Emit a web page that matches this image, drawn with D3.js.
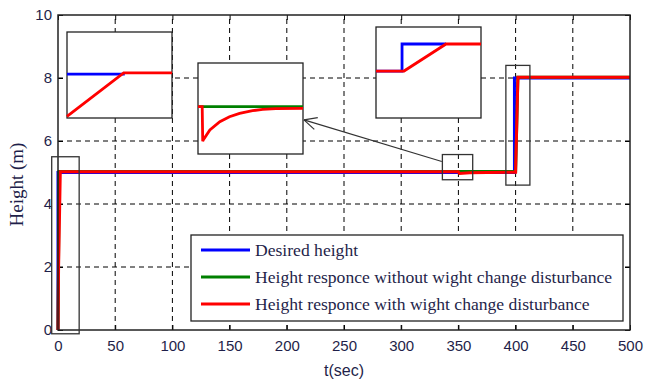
<!DOCTYPE html>
<html>
<head>
<meta charset="utf-8">
<script src="https://cdn.jsdelivr.net/npm/d3@7"></script>
<style>
  body { margin: 0; background: #fff; }
  svg text { fill: #1f1f4a; }
</style>
</head>
<body>
<div id="chart"></div>
<script>
// main series, [t, height]
var desired = [[0, 0], [0, 5], [399, 5], [399, 8], [500, 8]];
var noDisturb = [[0, 0], [1, 5.03], [400, 5.03], [402, 8.02], [500, 8.02]];
var withDisturb = [[0, 0], [0.5, 2], [2, 5.02], [350, 5.02], [351, 4.97], [360, 4.99],
  [375, 5.0], [400, 5.01], [402, 8.02], [500, 8.02]];

var xTicks = [0, 50, 100, 150, 200, 250, 300, 350, 400, 450, 500];
var yTicks = [0, 2, 4, 6, 8, 10];

var legendLabels = ["Desired height",
  "Height responce without wight change disturbance",
  "Height responce with wight change disturbance"];
var colors = ["#0000ff", "#008000", "#ff0000"];

// zoomed insets, drawn in their own unit box (0..1)
var inset1Blue = [[0, 0.51], [0.55, 0.51]];
var inset1Red = [[0, 0.02], [0.54, 0.525], [1, 0.525]];
var inset2Green = [[0, 0.52], [1, 0.52]];
var inset2Red = [[0, 0.52], [0.04, 0.52], [0.045, 0.14], [0.05, 0.154], [0.113, 0.264],
  [0.208, 0.355], [0.3, 0.41], [0.396, 0.447], [0.52, 0.476], [0.616, 0.491],
  [0.742, 0.498], [1, 0.502]];
var inset3Blue = [[0, 0.516], [0.248, 0.516], [0.248, 0.813], [0.667, 0.813]];
var inset3Red = [[0, 0.516], [0.267, 0.516], [0.667, 0.813], [1, 0.813]];

var width = 645, height = 379;
var margin = {left: 58, right: 15, top: 15, bottom: 49};

var svg = d3.select("#chart").append("svg")
  .attr("width", width)
  .attr("height", height);

var x = d3.scaleLinear().domain([0, 500]).range([margin.left, width - margin.right]);
var y = d3.scaleLinear().domain([0, 10]).range([height - margin.bottom, margin.top]);

// grid
var grid = svg.append("g").attr("class", "grid");
grid.selectAll("line.gx")
  .data(xTicks.slice(1, -1))
  .enter().append("line")
  .attr("x1", d => x(d)).attr("x2", d => x(d))
  .attr("y1", y(0)).attr("y2", y(10))
  .attr("stroke", "#000").attr("stroke-dasharray", "5,4");
grid.selectAll("line.gy")
  .data(yTicks.slice(1, -1))
  .enter().append("line")
  .attr("y1", d => y(d)).attr("y2", d => y(d))
  .attr("x1", x(0)).attr("x2", x(500))
  .attr("stroke", "#000").attr("stroke-dasharray", "5,4");

// axes, matlab style inward ticks on all four sides
var tickFont = "'Liberation Sans Narrow', 'Arial Narrow', 'Liberation Sans', Arial, sans-serif";
var xAxis = svg.append("g")
  .attr("transform", "translate(0," + y(0) + ")")
  .call(d3.axisBottom(x).tickValues(xTicks).tickSizeInner(-5).tickSizeOuter(0).tickPadding(10));
var yAxis = svg.append("g")
  .attr("transform", "translate(" + x(0) + ",0)")
  .call(d3.axisLeft(y).tickValues(yTicks).tickSizeInner(-5).tickSizeOuter(0).tickPadding(6));
svg.append("g")
  .attr("transform", "translate(0," + y(10) + ")")
  .call(d3.axisTop(x).tickValues(xTicks).tickSizeInner(-5).tickSizeOuter(0).tickFormat(""));
svg.append("g")
  .attr("transform", "translate(" + x(500) + ",0)")
  .call(d3.axisRight(y).tickValues(yTicks).tickSizeInner(-5).tickSizeOuter(0).tickFormat(""));
svg.selectAll(".domain").remove();
svg.selectAll(".tick line").attr("stroke", "#000");
[xAxis, yAxis].forEach(function (a) {
  a.selectAll("text")
    .style("font-family", tickFont)
    .style("font-size", "15px")
    .attr("fill", "#1f1f4a");
});

var line = d3.line().x(d => x(d[0])).y(d => y(d[1]));

svg.append("path").datum(desired)
  .attr("d", line).attr("fill", "none")
  .attr("stroke", colors[0]).attr("stroke-width", 3);
svg.append("path").datum(noDisturb)
  .attr("d", line).attr("fill", "none")
  .attr("stroke", colors[1]).attr("stroke-width", 3);
svg.append("path").datum(withDisturb)
  .attr("d", line).attr("fill", "none")
  .attr("stroke", colors[2]).attr("stroke-width", 3);

// plot frame
svg.append("rect")
  .attr("x", x(0)).attr("y", y(10))
  .attr("width", x(500) - x(0)).attr("height", y(0) - y(10))
  .attr("fill", "none").attr("stroke", "#222").attr("stroke-width", 1.5);

// boxes marking the zoomed regions (in data units)
var zoomBoxes = [
  {t0: -5.5, t1: 18.5, h0: -0.12, h1: 5.5},
  {t0: 336, t1: 362.5, h0: 4.77, h1: 5.57},
  {t0: 391.5, t1: 412.5, h0: 4.6, h1: 8.4}
];
svg.selectAll("rect.zbox")
  .data(zoomBoxes)
  .enter().append("rect")
  .attr("class", "zbox")
  .attr("x", d => x(d.t0)).attr("y", d => y(d.h1))
  .attr("width", d => x(d.t1) - x(d.t0)).attr("height", d => y(d.h0) - y(d.h1))
  .attr("fill", "none").attr("stroke", "#333").attr("stroke-width", 1.3);

// arrow from small box to inset 2
var arrowFrom = [335.5, 5.35], arrowTo = [215, 6.67];
var ax0 = x(arrowFrom[0]), ay0 = y(arrowFrom[1]), ax1 = x(arrowTo[0]), ay1 = y(arrowTo[1]);
svg.append("line")
  .attr("x1", ax0).attr("y1", ay0).attr("x2", ax1).attr("y2", ay1)
  .attr("stroke", "#333").attr("stroke-width", 1.2);
var ang = Math.atan2(ay0 - ay1, ax0 - ax1);
[-0.45, 0.45].forEach(function (da) {
  svg.append("line")
    .attr("x1", ax1).attr("y1", ay1)
    .attr("x2", ax1 + 14 * Math.cos(ang + da))
    .attr("y2", ay1 + 14 * Math.sin(ang + da))
    .attr("stroke", "#333").attr("stroke-width", 1.2);
});

// insets
function drawInset(box, series) {
  var g = svg.append("g");
  var ix = d3.scaleLinear().domain([0, 1]).range([box.x, box.x + box.w]);
  var iy = d3.scaleLinear().domain([0, 1]).range([box.y + box.h, box.y]);
  g.append("rect")
    .attr("x", box.x).attr("y", box.y).attr("width", box.w).attr("height", box.h)
    .attr("fill", "#fff").attr("stroke", "#222").attr("stroke-width", 1.3);
  var il = d3.line().x(d => ix(d[0])).y(d => iy(d[1]));
  series.forEach(function (s) {
    g.append("path").datum(s.data)
      .attr("d", il).attr("fill", "none")
      .attr("stroke", s.color).attr("stroke-width", 2.8);
  });
}

drawInset({x: 67, y: 32, w: 105, h: 86}, [
  {data: inset1Blue, color: colors[0]},
  {data: inset1Red, color: colors[2]}
]);
drawInset({x: 198, y: 63, w: 105, h: 91}, [
  {data: inset2Green, color: colors[1]},
  {data: inset2Red, color: colors[2]}
]);
drawInset({x: 376, y: 27, w: 105, h: 91}, [
  {data: inset3Blue, color: colors[0]},
  {data: inset3Red, color: colors[2]}
]);

// legend
var legend = svg.append("g").attr("transform", "translate(191,235)");
legend.append("rect")
  .attr("width", 432).attr("height", 86)
  .attr("fill", "#fff").attr("stroke", "#222").attr("stroke-width", 1.3);
var rows = legend.selectAll("g.row")
  .data(legendLabels)
  .enter().append("g")
  .attr("transform", (d, i) => "translate(0," + (15 + i * 27) + ")");
rows.append("line")
  .attr("x1", 10).attr("x2", 59)
  .attr("stroke", (d, i) => colors[i]).attr("stroke-width", 2.8);
rows.append("text")
  .attr("x", 64).attr("dy", "0.35em")
  .style("font-family", "'Liberation Serif', 'Times New Roman', serif")
  .style("font-size", "17.6px")
  .attr("fill", "#111")
  .text(d => d);

// axis titles
svg.append("text")
  .attr("transform", "translate(23," + (y(5) + 12) + ") rotate(-90)")
  .attr("text-anchor", "middle")
  .style("font-family", "'Liberation Serif', 'Times New Roman', serif")
  .style("font-size", "19px")
  .attr("fill", "#333")
  .text("Height (m)");
svg.append("text")
  .attr("x", x(250)).attr("y", 376)
  .attr("text-anchor", "middle")
  .style("font-family", tickFont)
  .style("font-size", "16px")
  .attr("fill", "#222")
  .text("t(sec)");
</script>
</body>
</html>
